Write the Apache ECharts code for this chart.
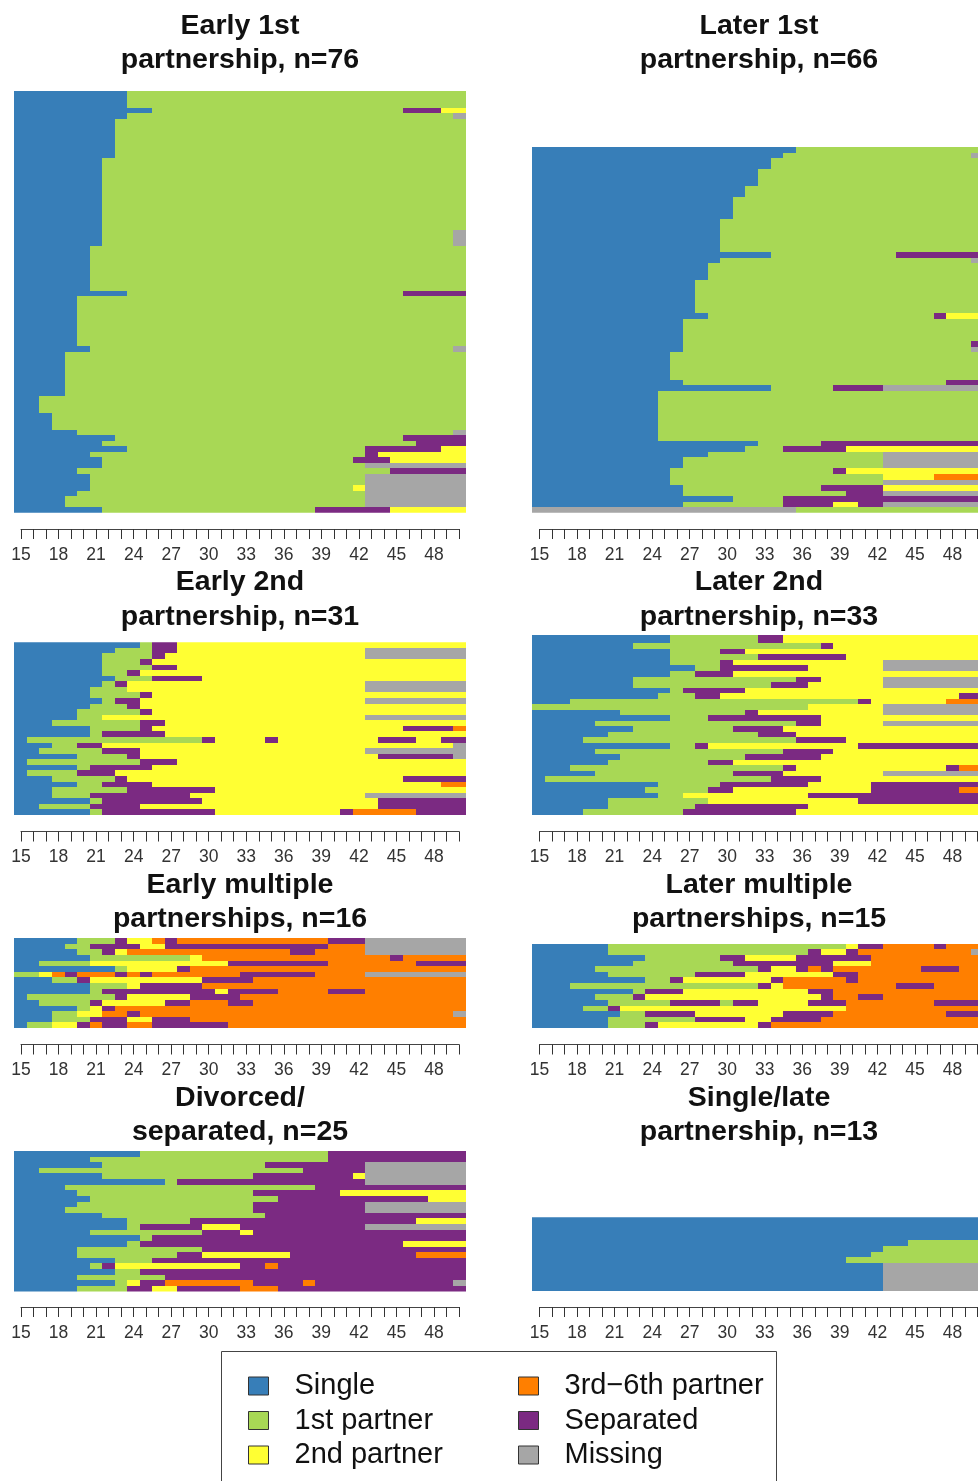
<!DOCTYPE html>
<html><head><meta charset="utf-8">
<style>html,body{margin:0;padding:0;background:#fff;overflow:hidden}#c{width:978px;height:1481px}</style>
<script src="https://cdn.jsdelivr.net/npm/echarts@6/dist/echarts.min.js"></script>
</head><body><div id="c"></div>
<script>
const stateNames = ['Single','1st partner','2nd partner','3rd\u22126th partner','Separated','Missing'];
const stateColors = ['#377EB8','#A8D855','#FFFF33','#FF7F00','#7B2A82','#A6A6A6'];
const S=0,A=1,B=2,C=3,X=4,M=5;
const ages = [15,16,17,18,19,20,21,22,23,24,25,26,27,28,29,30,31,32,33,34,35,36,37,38,39,40,41,42,43,44,45,46,47,48,49,50];

// each row: state, last age in that state, state, last age, ...
const early1st = [
[S,23,A,50],[S,23,A,50],[S,23,A,50],
[S,25,A,45,X,48,B,50],
[S,23,A,49,M,50],
[S,22,A,50],[S,22,A,50],[S,22,A,50],[S,22,A,50],[S,22,A,50],[S,22,A,50],[S,22,A,50],
[S,21,A,50],[S,21,A,50],[S,21,A,50],[S,21,A,50],[S,21,A,50],[S,21,A,50],[S,21,A,50],[S,21,A,50],[S,21,A,50],[S,21,A,50],[S,21,A,50],[S,21,A,50],[S,21,A,50],
[S,21,A,49,M,50],[S,21,A,49,M,50],[S,21,A,49,M,50],
[S,20,A,50],[S,20,A,50],[S,20,A,50],[S,20,A,50],[S,20,A,50],[S,20,A,50],[S,20,A,50],[S,20,A,50],
[S,23,A,45,X,50],
[S,19,A,50],[S,19,A,50],[S,19,A,50],[S,19,A,50],[S,19,A,50],[S,19,A,50],[S,19,A,50],[S,19,A,50],[S,19,A,50],
[S,20,A,49,M,50],
[S,18,A,50],[S,18,A,50],[S,18,A,50],[S,18,A,50],[S,18,A,50],[S,18,A,50],[S,18,A,50],[S,18,A,50],
[S,16,A,50],[S,16,A,50],[S,16,A,50],
[S,17,A,50],[S,17,A,50],[S,17,A,50],
[S,19,A,49,M,50],
[S,22,A,45,X,50],
[S,21,A,46,X,50],
[S,23,A,42,X,48,B,50],
[S,20,A,42,X,43,B,50],
[S,21,A,41,X,44,B,50],
[S,21,A,42,M,50],
[S,19,A,44,X,50],
[S,20,A,42,M,50],[S,20,A,42,M,50],
[S,20,A,41,B,42,M,50],
[S,19,A,42,M,50],
[S,18,A,42,M,50],[S,18,A,42,M,50],
[S,21,A,38,X,44,B,50]
];
const later1st = [
[S,35,A,50],
[S,34,A,49,M,50],
[S,33,A,50],[S,33,A,50],
[S,32,A,50],[S,32,A,50],[S,32,A,50],
[S,31,A,50],[S,31,A,50],
[S,30,A,50],[S,30,A,50],[S,30,A,50],[S,30,A,50],
[S,29,A,50],[S,29,A,50],[S,29,A,50],[S,29,A,50],[S,29,A,50],[S,29,A,50],
[S,33,A,43,X,50],
[S,29,A,49,M,50],
[S,28,A,50],[S,28,A,50],[S,28,A,50],
[S,27,A,50],[S,27,A,50],[S,27,A,50],[S,27,A,50],[S,27,A,50],[S,27,A,50],
[S,28,A,46,X,47,B,50],
[S,26,A,50],[S,26,A,50],[S,26,A,50],[S,26,A,50],
[S,26,A,49,X,50],
[S,26,A,49,M,50],
[S,25,A,50],[S,25,A,50],[S,25,A,50],[S,25,A,50],[S,25,A,50],
[S,26,A,47,X,50],
[S,33,A,38,X,42,M,50],
[S,24,A,50],[S,24,A,50],[S,24,A,50],[S,24,A,50],[S,24,A,50],[S,24,A,50],[S,24,A,50],[S,24,A,50],[S,24,A,50],
[S,32,A,37,X,50],
[S,31,A,34,X,39,B,50],
[S,28,A,42,M,50],
[S,26,A,42,M,50],[S,26,A,42,M,50],
[S,25,A,38,X,39,B,50],
[S,25,A,42,B,46,C,50],
[S,25,A,42,M,50],
[S,26,A,37,X,42,B,50],
[S,26,A,39,X,42,M,50],
[S,30,A,34,X,50],
[S,26,A,34,X,38,B,40,X,42,M,50],
[M,35,A,50]
];
const early2nd = [
[S,24,A,25,X,27,B,50],
[S,22,A,25,X,27,B,42,M,50],
[S,21,A,25,X,26,B,42,M,50],
[S,21,A,24,X,25,B,50],
[S,21,A,25,X,27,B,50],
[S,21,A,23,X,24,B,50],
[S,22,A,25,X,29,B,50],
[S,21,A,22,X,23,B,42,M,50],
[S,20,A,23,B,42,M,50],
[S,20,A,24,X,25,B,50],
[S,21,A,22,X,24,B,42,M,50],
[S,20,A,23,X,24,B,50],
[S,19,A,24,X,25,B,50],
[S,19,A,21,B,42,M,50],
[S,17,A,24,X,26,B,50],
[S,20,A,24,X,25,B,45,X,49,C,50],
[S,20,A,21,X,26,B,50],
[S,15,A,29,X,30,B,34,X,35,B,43,X,46,B,48,X,50],
[S,17,A,19,X,21,B,49,M,50],
[S,16,A,21,X,24,B,42,M,50],
[S,19,A,23,X,24,B,43,X,49,M,50],
[S,15,A,24,X,27,B,50],
[S,19,A,20,X,25,B,50],
[S,15,A,19,X,22,B,50],
[S,17,A,22,X,23,B,45,X,50],
[S,19,A,21,X,25,B,48,C,50],
[S,17,A,23,X,30,B,50],
[S,17,A,20,X,28,B,42,M,50],
[S,20,A,21,X,29,B,43,X,50],
[S,16,A,20,X,24,B,43,X,50],
[S,20,A,21,X,30,B,40,X,41,C,46,X,50]
];
const later2nd = [
[S,25,A,32,X,34,B,50],[S,25,A,32,X,34,B,50],
[S,22,A,37,X,38,B,50],
[S,25,A,29,X,31,B,50],
[S,25,A,32,X,39,B,50],
[S,25,A,29,X,30,B,42,M,50],
[S,27,A,29,X,36,B,42,M,50],
[S,25,A,27,X,30,B,50],
[S,22,A,35,X,37,B,42,M,50],
[S,22,A,33,X,36,B,42,M,50],
[S,25,A,26,X,31,B,50],
[S,24,A,27,X,29,B,48,X,50],
[S,17,A,40,X,41,B,47,C,50],
[A,36,B,42,M,50],
[S,21,A,31,X,32,B,42,M,50],
[S,25,A,28,X,37,B,50],
[S,19,A,35,X,37,B,42,M,50],
[S,22,A,30,X,34,B,50],
[S,20,A,32,X,35,B,50],
[S,18,A,35,X,39,B,50],
[S,25,A,27,X,28,B,40,X,50],
[S,19,A,34,X,38,B,50],
[S,21,A,31,X,37,B,50],
[S,20,A,28,X,30,B,50],
[S,17,A,34,X,35,B,47,X,48,C,50],
[S,19,A,30,X,34,B,42,M,50],
[S,15,A,33,X,37,B,50],
[S,24,A,29,X,36,B,41,X,50],
[S,23,A,28,X,30,B,41,X,48,C,50],
[S,24,A,26,B,36,X,50],
[S,20,A,28,B,40,X,50],
[S,20,A,27,X,36,B,50],
[S,18,A,26,X,35,B,50]
];
const earlyMultiple = [
[S,19,A,22,X,23,B,25,C,26,X,27,C,39,X,42,M,50],
[S,18,A,20,X,24,B,26,X,39,C,42,M,50],
[S,19,A,21,X,22,B,23,C,36,X,38,C,42,M,50],
[S,20,A,28,B,29,C,44,X,45,C,50],
[S,16,A,20,B,31,X,39,C,46,X,50],
[S,22,A,23,B,27,X,28,C,50],
[A,16,B,17,C,18,X,19,C,22,X,23,C,24,X,25,C,32,X,38,C,42,M,50],
[S,17,A,19,X,20,B,29,X,33,C,50],
[S,20,A,23,B,24,X,29,C,50],
[S,20,A,21,X,30,B,31,X,35,C,39,X,42,C,50],
[S,15,A,22,X,23,B,28,X,32,C,50],
[S,16,A,20,X,21,B,26,X,28,C,31,X,33,C,50],
[S,19,A,20,B,21,X,22,C,50],
[S,17,A,19,B,21,C,23,X,24,C,49,M,50],
[S,17,A,20,X,23,B,25,X,28,C,50],
[S,15,A,17,B,19,X,20,C,21,X,23,C,25,X,31,C,50]
];
const laterMultiple = [
[S,20,A,39,B,40,X,42,C,46,X,47,C,50],
[S,20,A,36,X,37,B,39,X,40,C,49,M,50],
[S,23,A,29,X,31,B,35,X,41,C,50],
[S,22,A,30,X,38,B,41,C,50],
[S,19,A,32,X,33,B,35,X,36,C,37,X,38,C,45,X,48,C,50],
[S,20,A,27,X,31,B,38,X,40,C,50],
[S,23,A,25,X,26,B,33,X,34,C,39,X,40,C,50],
[S,17,A,32,X,33,B,34,C,43,X,46,C,50],
[S,22,A,23,X,26,B,36,X,38,C,50],
[S,19,A,22,X,23,B,37,X,38,C,40,X,42,C,50],
[S,20,A,25,X,29,A,30,X,32,B,36,X,39,C,46,X,50],
[S,18,A,20,X,21,B,39,C,50],
[S,21,A,23,X,27,B,34,X,38,C,47,X,50],
[S,20,A,27,X,31,B,33,X,37,C,50],
[S,20,A,23,X,24,B,32,X,33,C,50]
];
const divorced = [
[S,24,A,39,X,50],
[S,20,A,39,X,50],
[S,21,A,34,X,42,M,50],
[S,16,A,37,X,42,M,50],
[S,21,A,33,X,41,B,42,M,50],
[S,26,A,27,X,42,M,50],
[S,18,A,38,X,50],
[S,19,A,33,X,40,B,50],
[S,20,A,35,X,47,B,50],
[S,19,A,33,X,42,M,50],
[S,18,A,33,X,42,M,50],
[S,21,A,34,X,50],
[S,23,A,28,X,46,B,50],
[S,23,A,24,X,29,B,32,X,42,M,50],
[S,20,A,29,X,32,B,33,X,50],
[S,24,A,25,X,50],
[S,23,A,24,X,45,B,50],
[S,19,A,29,X,50],
[S,19,A,27,X,29,B,36,X,46,C,50],
[S,22,A,25,X,50],
[S,20,A,21,X,22,B,32,X,34,C,35,X,50],
[S,22,A,24,X,50],
[S,19,A,26,X,50],
[S,22,A,23,B,24,X,26,C,33,X,37,C,38,X,49,M,50],
[S,19,A,23,X,25,B,27,X,32,C,35,X,50]
];
const singleLate = [
[S,50],[S,50],[S,50],[S,50],
[S,44,A,50],
[S,42,A,50],
[S,41,A,50],
[S,39,A,50],
[S,42,M,50],[S,42,M,50],[S,42,M,50],[S,42,M,50],[S,42,M,50]
];

const panelTitles = [
 'Early 1st\npartnership, n=76','Later 1st\npartnership, n=66',
 'Early 2nd\npartnership, n=31','Later 2nd\npartnership, n=33',
 'Early multiple\npartnerships, n=16','Later multiple\npartnerships, n=15',
 'Divorced/\nseparated, n=25','Single/late\npartnership, n=13'];
const panelRows = [early1st,later1st,early2nd,later2nd,earlyMultiple,laterMultiple,divorced,singleLate];

// layout: the right column runs past the page edge, so its x scale is cut where the page ends
const colLeft=[14.4,532.4], colWidth=[451.3,445.6], colMax=[50.5,50.05], tickLeft=[21,539.5], tickWidth=438;
const titleCenter=[240,759];
const plotTop=[91,147,642.3,635,938,943.7,1151,1217.3];
const plotBottom=[512.8,512.8,815,815,1028,1028,1291.6,1291.4];
const rowStart=[0,0,0,0.5,0,0,0,0];
const axisLine=[529,529,831.5,831.5,1044.5,1044.5,1307,1307];
const titleTop=[8.5,8.5,565,565,867.5,867.5,1080.5,1080.5];

const grid=[],xAxis=[],yAxis=[],series=[],title=[];
panelRows.forEach((rows,p)=>{
  const col=p%2;
  const g=grid.length;
  grid.push({left:colLeft[col],width:colWidth[col],top:plotTop[p],height:plotBottom[p]-plotTop[p]});
  xAxis.push({gridIndex:g,type:'value',min:14.5,max:colMax[col],show:false});
  yAxis.push({gridIndex:g,type:'value',min:rowStart[p],max:rows.length,inverse:true,show:false});
  grid.push({left:tickLeft[col],width:tickWidth,top:axisLine[p]-1,height:1});
  xAxis.push({gridIndex:g+1,type:'category',data:ages,boundaryGap:false,position:'bottom',
    axisLine:{lineStyle:{color:'#444',width:1}},
    axisTick:{alignWithLabel:true,interval:0,length:10,inside:false,lineStyle:{color:'#333',width:1}},
    axisLabel:{interval:2,margin:17,fontSize:17.5,color:'#333',fontFamily:'Liberation Sans',hideOverlap:false},
    splitLine:{show:false}});
  yAxis.push({gridIndex:g+1,type:'value',show:false});
  title.push({text:panelTitles[p],left:titleCenter[col],top:titleTop[p],textAlign:'center',padding:0,
    textStyle:{fontFamily:'Liberation Sans',fontWeight:'bold',fontSize:28.5,lineHeight:34.5,color:'#111'}});
  stateNames.forEach((name,s)=>{
    const data=[];
    rows.forEach((r,i)=>{
      let prev=14;
      for(let k=0;k<r.length;k+=2){
        if(r[k]===s) data.push([prev+0.5,r[k+1]+0.5,i]);
        prev=r[k+1];
      }
    });
    series.push({type:'custom',name,xAxisIndex:g,yAxisIndex:g,clip:true,silent:true,animation:false,
      itemStyle:{color:stateColors[s]},encode:{x:[0,1],y:2},data,
      renderItem:(params,api)=>{
        const a=api.coord([api.value(0),api.value(2)]);
        const b=api.coord([api.value(1),api.value(2)+1]);
        const x0=Math.round(a[0]),y0=Math.round(a[1]);
        return {type:'rect',shape:{x:x0,y:y0,width:Math.round(b[0])-x0,height:Math.round(b[1])-y0},
          style:{fill:stateColors[s]}};
      }});
  });
});

const legendCommon={orient:'vertical',selectedMode:false,icon:'rect',itemWidth:20,itemHeight:18,itemGap:1.5,padding:0,
  itemStyle:{borderColor:'#333',borderWidth:1},
  textStyle:{fontFamily:'Liberation Sans',fontSize:29,lineHeight:23,color:'#111',padding:[10,0,0,21]}};

const chart=echarts.init(document.getElementById('c'),null,{renderer:'canvas'});
chart.setOption({
  animation:false,backgroundColor:'#fff',title,grid,xAxis,yAxis,series,
  legend:[
    Object.assign({},legendCommon,{left:248,top:1369.5,data:stateNames.slice(0,3)}),
    Object.assign({},legendCommon,{left:518,top:1369.5,data:stateNames.slice(3)})
  ],
  graphic:[{type:'rect',z:-1,shape:{x:221.5,y:1351.5,width:555,height:140},style:{fill:'#fff',stroke:'#444',lineWidth:1}}]
});
</script></body></html>
